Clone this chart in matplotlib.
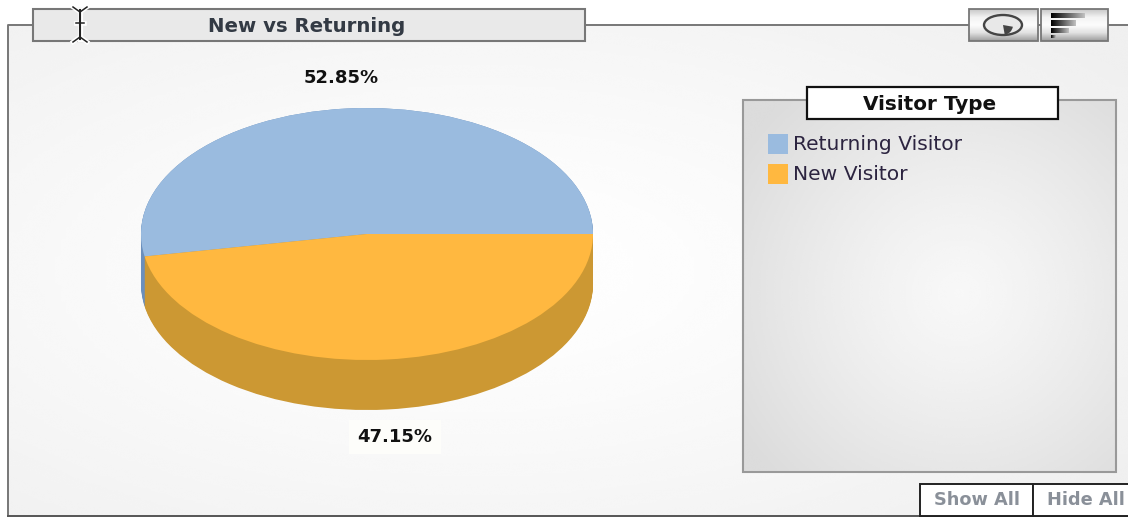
import numpy as np
import matplotlib
matplotlib.use("Agg")
import matplotlib.pyplot as plt
from matplotlib.patches import Rectangle, Ellipse, Wedge

W, H = 1128, 517

title = "New vs Returning"
legend_title = "Visitor Type"
categories = ["Returning Visitor", "New Visitor"]
values = [52.85, 47.15]
top_colors = ["#9abbdf", "#ffb840"]
side_colors = ["#6b8fbc", "#cc9833"]
buttons = ["Show All", "Hide All"]

# pie geometry in pixels
cx, cy, rx, ry, depth = 367, 234, 226, 126, 50

fig = plt.figure(figsize=(W / 100, H / 100), dpi=100, facecolor="white")

# page axes, one data unit is one pixel
ax = fig.add_axes([0, 0, 1, 1])
ax.set_axis_off()


def gradient(x0, x1, y0, y1, fx, fy, inner, outer, zorder):
    # radial grey fill, fx/fy = centre as fraction of the box
    n = 200
    xx, yy = np.meshgrid(np.linspace(0, 1, n), np.linspace(0, 1, n))
    d = np.sqrt(((xx - fx) ** 2 + (yy - fy) ** 2) / 0.5)
    img = inner + (outer - inner) * np.clip(d, 0, 1) ** 1.3
    ax.imshow(img, extent=(x0, x1, y1, y0), cmap="gray", vmin=0, vmax=1,
              aspect="auto", zorder=zorder, interpolation="bicubic")


def vgrad(x0, x1, y0, y1, stops, zorder):
    img = np.interp(np.linspace(0, 1, 40), np.linspace(0, 1, len(stops)), stops)[:, None]
    ax.imshow(img, extent=(x0, x1, y1, y0), cmap="gray", vmin=0, vmax=1,
              aspect="auto", zorder=zorder)


def box(x0, x1, y0, y1, ec, lw=1.5, fc="none", zorder=3):
    ax.add_patch(Rectangle((x0, y0), x1 - x0, y1 - y0, fc=fc, ec=ec, lw=lw, zorder=zorder))


# main panel
gradient(8, W, 25, 516, 0.42, 0.5, 1.0, 0.94, 1)
ax.plot([8, 8, W], [516, 25, 25], color="#777777", lw=1.4, zorder=2)
ax.plot([8, W], [516, 516], color="#555555", lw=1.4, zorder=2)

# title tab
box(33, 585, 9, 41, "#777777", fc="#e9e9e9")
ax.text(307, 27, title, ha="center", va="center", fontsize=14.2, fontweight="bold",
        color="#333a44", zorder=4)

# text cursor sitting on the tab
for col, extra in (("white", 2.2), ("#222222", 0)):
    ax.plot([80, 80], [10, 39], color=col, lw=1.5 + extra, zorder=6)
    ax.plot([76, 84], [23, 23], color=col, lw=1.1 + extra, zorder=6)
    for y, s in ((8, 1), (41, -1)):
        ax.plot([73, 80, 87], [y - s, y + 4 * s, y - s], color=col, lw=1.1 + extra, zorder=6)

# chart type buttons
for x0, x1 in ((969, 1038), (1041, 1108)):
    vgrad(x0, x1, 9, 41, [0.78, 0.95, 0.99, 0.88, 0.62], 3)
    box(x0, x1, 9, 41, "#777777", lw=1.3, zorder=4)
ax.add_patch(Ellipse((1003, 25), 38, 20, fc="#e8e8e8", ec="#444444", lw=1.7, zorder=5))
ax.add_patch(Wedge((1003, 25), 10, 10, 80, fc="#444444", ec="none", zorder=5))
for y0, y1, x1 in ((13, 18, 1085), (20, 26, 1076), (28, 33, 1069), (35, 38, 1056)):
    xs = np.linspace(0, 1, 40)[None, :]
    ax.imshow(xs * 0.75, extent=(1051, x1, y1, y0), cmap="gray", vmin=0, vmax=1,
              aspect="auto", zorder=5)

# legend panel
gradient(743, 1116, 100, 472, 0.58, 0.52, 0.97, 0.86, 3)
box(743, 1116, 100, 472, "#999999", lw=1.5, zorder=4)
box(807, 1058, 87, 119, "#111111", lw=1.6, fc="white", zorder=5)
ax.text(929.5, 104, legend_title, ha="center", va="center", fontsize=14.4, fontweight="bold",
        color="#111111", zorder=6)
for i, (name, c) in enumerate(zip(categories, top_colors)):
    y = 144 + 30 * i
    ax.add_patch(Rectangle((768, y - 10), 20, 20, fc=c, ec="none", zorder=5))
    ax.text(793, y + 1, name, ha="left", va="center", fontsize=14.6, color="#2c2440", zorder=6)

# show / hide buttons
for (x0, x1), label in zip(((920, 1033), (1033, W + 5)), buttons):
    box(x0, x1, 484, 516, "#222222", lw=1.4, fc="white", zorder=5)
    ax.text(x0 + 57 if x0 < 1000 else 1086, 500, label, ha="center", va="center", fontsize=12.8,
            fontweight="bold", color="#8a9099", zorder=6)

ax.set_xlim(0, W)
ax.set_ylim(H, 0)

# pie axes spans the figure, scaled so the unit circle lands on the ellipse
pie_ax = fig.add_axes([0, 0, 1, 1], facecolor="none")
for off in np.linspace(depth / ry, 0, depth + 1):
    pie_ax.pie(values, colors=side_colors, center=(0, -off), radius=1.0, startangle=0,
               wedgeprops={"linewidth": 0})
pie_ax.pie(values, colors=top_colors, center=(0, 0), radius=1.0, startangle=0,
           wedgeprops={"linewidth": 0})
pie_ax.set_aspect("auto")
pie_ax.set_xlim(-cx / rx, (W - cx) / rx)
pie_ax.set_ylim((cy - H) / ry, cy / ry)
pie_ax.set_axis_off()

# percent labels
ax2 = fig.add_axes([0, 0, 1, 1], facecolor="none")
ax2.set_axis_off()
ax2.set_xlim(0, W)
ax2.set_ylim(H, 0)
ax2.text(341, 78, f"{values[0]:.2f}%", ha="center", va="center", fontsize=13,
         fontweight="bold", color="#111111")
ax2.text(395, 437, f"{values[1]:.2f}%", ha="center", va="center", fontsize=13,
         fontweight="bold", color="#111111",
         bbox={"fc": "#fdfdfa", "ec": "none", "pad": 6})

fig.savefig("out.png", dpi=100)
